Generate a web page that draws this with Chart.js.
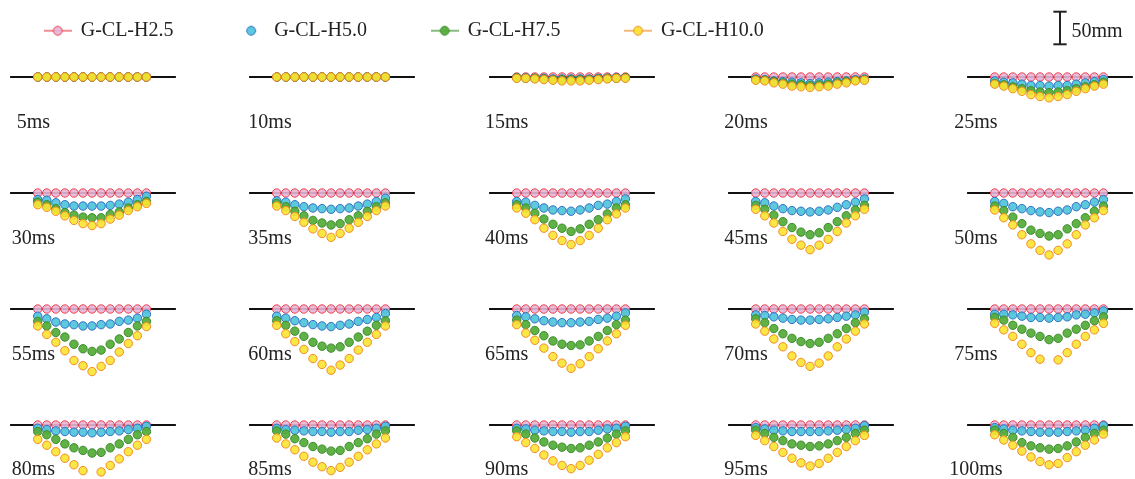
<!DOCTYPE html>
<html>
<head>
<meta charset="utf-8">
<script src="https://cdn.jsdelivr.net/npm/chart.js@4.4.1/dist/chart.umd.min.js"></script>
<style>
  html, body { margin: 0; padding: 0; background: #fff; }
  body { width: 1135px; height: 479px; position: relative; overflow: hidden;
         font-family: "Liberation Serif", "Times New Roman", serif; }
  canvas { position: absolute; }
  .lbl { position: absolute; font-size: 20px; line-height: 20px; color: #222;
         white-space: nowrap; transform: translateX(-50%); }
</style>
</head>
<body>
<script>
// Time of each snapshot (ms), one panel per entry, read row by row
const times = [5, 10, 15, 20, 25, 30, 35, 40, 45, 50, 55, 60, 65, 70, 75, 80, 85, 90, 95, 100];
// Measuring stations along the span
const stations = [1, 2, 3, 4, 5, 6, 7, 8, 9, 10, 11, 12, 13];
const seriesNames = ['G-CL-H2.5', 'G-CL-H5.0', 'G-CL-H7.5', 'G-CL-H10.0'];
const scaleBarMM = 50;

// Downward deflection (mm) at each station, one row per snapshot
const h25 = [
  [0,0,0,0,0,0,0,0,0,0,0,0,0],
  [0,0,0,0,0,0,0,0,0,0,0,0,0],
  [0,0,0,0,0,0,0,0,0,0,0,0,0],
  [0,0,0,0,0,0,0,0,0,0,0,0,0],
  [0,0,0,0,0,0,0,0,0,0,0,0,0],
  [0,0,0,0,0,0,0,0,0,0,0,0,0],
  [0,0,0,0,0,0,0,0,0,0,0,0,0],
  [0,0,0,0,0,0,0,0,0,0,0,0,0],
  [0,0,0,0,0,0,0,0,0,0,0,0,0],
  [0,0,0,0,0,0,0,0,0,0,0,0,0],
  [0,0,0,0,0,0,0,0,0,0,0,0,0],
  [0,0,0,0,0,0,0,0,0,0,0,0,0],
  [0,0,0,0,0,0,0,0,0,0,0,0,0],
  [0,0,0,0,0,0,0,0,0,0,0,0,0],
  [0,0,0,0,0,0,0,0,0,0,0,0,0],
  [0,0,0,0,0,0,0,0,0,0,0,0,0],
  [0,0,0,0,0,0,0,0,0,0,0,0,0],
  [0,0,0,0,0,0,0,0,0,0,0,0,0],
  [0,0,0,0,0,0,0,0,0,0,0,0,0],
  [0,0,0,0,0,0,0,0,0,0,0,0,0]
];
const h50 = [
  [0,0,0,0,0,0,0,0,0,0,0,0,0],
  [0,0,0,0,0,0,0,0,0,0,0,0,0],
  [1,1,2,2,3,3,3,3,3,2,2,1,1],
  [3,4,6,7,8,9,10,9,8,7,6,4,3],
  [6,8,9,11,13,13,14,13,13,11,9,7,4],
  [10,11,15,18,20,20,20,20,19,17,14,10,5],
  [12,14,18,21,23,24,25,24,23,20,17,13,8],
  [13,14,19,23,26,27,28,26,23,19,17,13,9],
  [13,15,20,24,27,28,29,28,26,22,18,14,9],
  [13,16,21,24,27,29,30,28,26,21,18,14,10],
  [11,15,20,23,24,26,26,24,23,19,17,14,8],
  [11,14,18,21,24,26,27,25,23,19,16,13,7],
  [10,12,15,18,20,21,21,20,19,16,14,11,6],
  [9,10,12,14,16,17,17,16,15,13,11,9,5],
  [8,8,9,11,13,13,14,13,12,9,8,6,3],
  [5,7,9,10,11,11,12,11,10,9,7,5,2],
  [5,7,8,9,10,10,11,10,10,8,7,5,2],
  [5,6,8,9,10,10,11,10,10,8,6,5,2],
  [4,6,8,9,10,10,10,10,9,8,7,5,1],
  [4,6,8,9,10,11,11,11,10,9,8,5,1]
];
const h75 = [
  [0,0,0,0,0,0,0,0,0,0,0,0,0],
  [0,0,0,0,0,0,0,0,0,0,0,0,0],
  [1,2,2,3,4,4,4,4,4,3,2,2,1],
  [4,5,7,9,11,12,13,12,11,9,7,5,4],
  [10,12,15,18,21,23,24,23,21,18,15,12,8],
  [14,18,24,30,34,37,38,38,33,29,23,18,13],
  [16,21,28,35,42,46,49,47,41,35,28,21,15],
  [18,23,31,40,48,54,59,55,48,41,32,23,18],
  [19,25,34,44,53,60,64,61,53,44,35,26,19],
  [20,27,37,47,57,62,66,64,55,47,38,28,20],
  [19,26,36,43,54,61,65,63,54,46,36,26,19],
  [18,25,34,42,51,57,60,58,51,43,34,25,18],
  [17,24,33,41,49,54,56,55,49,42,33,24,17],
  [15,21,30,38,45,50,53,51,45,38,30,21,15],
  [13,17,25,31,37,42,47,45,37,31,25,18,12],
  [10,15,22,29,35,39,43,42,35,29,22,15,10],
  [9,14,21,27,33,37,40,39,33,27,21,14,9],
  [9,14,20,26,31,34,36,35,31,26,20,14,9],
  [8,13,19,24,29,31,33,32,29,24,19,13,8],
  [8,13,19,27,32,35,37,36,32,26,19,13,8]
];
const h100 = [
  [0,0,0,0,0,0,0,0,0,0,0,0,0],
  [0,0,0,0,0,0,0,0,0,0,0,0,0],
  [2,2,3,4,5,6,6,6,5,4,3,2,2],
  [5,6,9,11,14,15,16,15,14,11,9,6,5],
  [11,14,18,22,27,30,32,30,27,22,18,14,11],
  [18,22,28,35,42,47,50,47,40,34,27,21,16],
  [20,27,36,45,55,62,68,62,54,45,36,27,20],
  [23,31,41,54,65,73,79,73,65,54,41,32,23],
  [25,35,46,59,71,80,87,80,71,59,46,35,25],
  [26,38,49,64,78,88,95,88,78,64,49,38,27],
  [26,39,51,64,79,87,96,88,79,66,53,41,27],
  [25,38,50,62,76,85,94,86,76,63,51,39,26],
  [24,37,48,60,73,83,91,84,73,61,49,38,25],
  [23,34,46,58,72,82,88,83,72,58,46,34,23],
  [22,32,42,54,67,77,null,78,67,54,42,32,22],
  [22,31,41,51,61,70,null,72,62,52,41,31,22],
  [20,29,38,48,57,64,70,65,57,48,38,29,20],
  [18,27,36,46,55,62,67,62,54,45,35,27,18],
  [16,24,33,42,51,58,63,59,51,42,33,24,16],
  [15,23,31,40,49,56,61,59,50,41,31,23,14]
];
const seriesData = [h25, h50, h75, h100];

// ---- drawing ----
const FONT = '"Liberation Serif", "Times New Roman", serif';
const TEXT = '#222';
const fills   = ['rgba(230,182,216,0.9)', 'rgba(78,196,218,0.92)', 'rgba(86,172,58,0.94)', 'rgba(250,228,52,0.92)'];
const borders = ['#ee3f4c', '#2e6fc4', '#3a8c2a', '#f28a22'];

const PX_PER_MM = 32.6 / 50;      // vertical scale of every panel
const PX_PER_STATION = 9.06;      // horizontal scale of every panel
const COL_X = 37.7, COL_STEP = 239.3;   // first station centre of first column
const ROW_Y = 77.4, ROW_STEP = 115.7;   // baseline of first row
const LABEL_CX = [33.4, 270, 506.7, 746, 975.8];
const LINE_FROM = -2.05, LINE_TO = 16.25;  // baseline extent in station units
const PW = 200, PH = 115, LEFT_PAD = 3.5, TOP_PAD = 16;

Chart.defaults.font.family = FONT;

function addCanvas(left, top, w, h) {
  const c = document.createElement('canvas');
  c.width = w; c.height = h;
  c.style.left = left + 'px'; c.style.top = top + 'px';
  c.style.width = w + 'px'; c.style.height = h + 'px';
  document.body.appendChild(c);
  return c;
}

const baseOpts = (xmin, xmax, ymin, ymax) => ({
  responsive: false, animation: false, events: [],
  layout: { padding: 0, autoPadding: false },
  plugins: { legend: { display: false }, tooltip: { enabled: false } },
  scales: {
    x: { type: 'linear', display: false, min: xmin, max: xmax },
    y: { type: 'linear', display: false, min: ymin, max: ymax }
  }
});

times.forEach((t, p) => {
  const col = p % 5, row = Math.floor(p / 5);
  const x0 = COL_X + COL_STEP * col;
  const y0 = ROW_Y + ROW_STEP * row;
  const cv = addCanvas(x0 - LEFT_PAD * PX_PER_STATION, y0 - TOP_PAD, PW, PH);
  const xmin = stations[0] - LEFT_PAD, xmax = xmin + PW / PX_PER_STATION;
  const ymax = TOP_PAD / PX_PER_MM, ymin = ymax - PH / PX_PER_MM;

  const datasets = seriesData.map((s, k) => ({
    label: seriesNames[k],
    data: stations.map((st, i) => ({ x: st, y: s[p][i] == null ? null : -s[p][i] })),
    showLine: false,
    pointRadius: 4.2,
    pointBorderWidth: 1,
    pointBackgroundColor: fills[k],
    pointBorderColor: borders[k],
    order: 4 - k
  }));
  datasets.push({
    label: 'base',
    data: [{ x: LINE_FROM, y: 0 }, { x: LINE_TO, y: 0 }],
    showLine: true, pointRadius: 0, borderColor: '#111', borderWidth: 2, order: 10
  });
  new Chart(cv, { type: 'scatter', data: { datasets }, options: baseOpts(xmin, xmax, ymin, ymax) });

  const lb = document.createElement('div');
  lb.className = 'lbl';
  lb.textContent = t + 'ms';
  lb.style.left = LABEL_CX[col] + 'px';
  lb.style.top = (y0 + 50.5 - 16.8) + 'px';
  document.body.appendChild(lb);
});

// ---- scale bar (same vertical scale as the panels) ----
(function () {
  const W = 40, H = 56, cx = 1060, bottom = 44.3;
  const cv = addCanvas(cx - W / 2, 0, W, H);
  const ymin = -(H - bottom) / PX_PER_MM, ymax = ymin + H / PX_PER_MM;
  const seg = (a, b) => ({ data: [a, b], showLine: true, pointRadius: 0, borderColor: '#222', borderWidth: 2 });
  new Chart(cv, {
    type: 'scatter',
    data: { datasets: [
      seg({ x: 0, y: 0 }, { x: 0, y: scaleBarMM }),
      seg({ x: -1, y: 0 }, { x: 1, y: 0 }),
      seg({ x: -1, y: scaleBarMM }, { x: 1, y: scaleBarMM })
    ] },
    options: baseOpts(-3, 3, ymin, ymax)
  });
  const lb = document.createElement('div');
  lb.className = 'lbl';
  lb.style.transform = 'none';
  lb.textContent = scaleBarMM + 'mm';
  lb.style.left = '1071.5px';
  lb.style.top = (36.7 - 16.8) + 'px';
  document.body.appendChild(lb);
})();

// ---- legend ----
(function () {
  const icons = fills.map((f, k) => {
    const c = document.createElement('canvas');
    c.width = 28; c.height = 12;
    const g = c.getContext('2d');
    if (k !== 1) {
      g.strokeStyle = borders[k]; g.lineWidth = 1.2;
      g.beginPath(); g.moveTo(0, 6); g.lineTo(28, 6); g.stroke();
    }
    g.fillStyle = f; g.strokeStyle = borders[k]; g.lineWidth = 1;
    g.beginPath(); g.arc(14, 6, 4.4, 0, Math.PI * 2); g.fill(); g.stroke();
    return c;
  });
  const PAD = 64.7, BOXW = 26, FS = 20;
  const firstBoxLeft = 44.3, centerY = 31;
  const left = firstBoxLeft - PAD, top = centerY - PAD - FS / 2;
  const cv = addCanvas(left, top, 900, 320);
  new Chart(cv, {
    type: 'scatter',
    data: { datasets: seriesNames.map(n => ({ label: n, data: [] })) },
    options: {
      responsive: false, animation: false, events: [],
      layout: { padding: 0, autoPadding: false },
      scales: { x: { display: false }, y: { display: false } },
      plugins: {
        tooltip: { enabled: false },
        legend: {
          display: true, position: 'top', align: 'start',
          labels: {
            usePointStyle: true, pointStyleWidth: BOXW, boxHeight: FS,
            padding: PAD, color: TEXT,
            font: { family: FONT, size: FS },
            generateLabels: () => seriesNames.map((n, i) => ({
              text: n, pointStyle: icons[i], fillStyle: fills[i], strokeStyle: borders[i],
              lineWidth: 0, hidden: false, datasetIndex: i, fontColor: TEXT
            }))
          }
        }
      }
    }
  });
})();
</script>
</body>
</html>
